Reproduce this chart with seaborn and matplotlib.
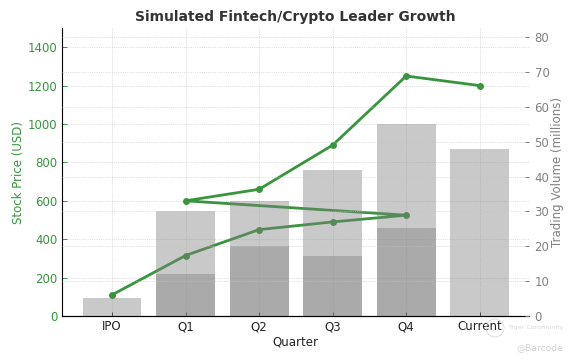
import matplotlib
matplotlib.use("Agg")
from matplotlib import pyplot as plt
from matplotlib.patches import Ellipse
import seaborn as sns

categories = ['IPO', 'Q1', 'Q2', 'Q3', 'Q4', 'Current']

# line goes back to Q1 after the first Q4, same as the picture
line_quarters = ['IPO', 'Q1', 'Q2', 'Q3', 'Q4', 'Q1', 'Q2', 'Q3', 'Q4', 'Current']
price = [110, 315, 450, 490, 525, 600, 660, 890, 1250, 1200]

# two overlapping rounds of volume bars
bar_quarters_1 = ['IPO', 'Q1', 'Q2', 'Q3', 'Q4']
volume_1 = [5.2, 12, 20, 17.2, 25.2]
bar_quarters_2 = ['Q1', 'Q2', 'Q3', 'Q4', 'Current']
volume_2 = [30, 33, 42, 55, 48]

GREEN = '#38943d'
GRAY = '#808080'

sns.set_style('white')
plt.rcParams['font.family'] = ['DejaVu Sans']

fig, ax1 = plt.subplots(figsize=(5.76, 3.6), dpi=100)
ax2 = ax1.twinx()

sns.lineplot(x=line_quarters, y=price, sort=False, estimator=None, marker='o',
             color=GREEN, linewidth=2, markersize=5, markeredgewidth=0, ax=ax1)
ax1.set_ylim(0, 1500)
ax1.set_yticks(range(0, 1401, 200))
ax1.set_ylabel('Stock Price (USD)', color=GREEN, fontsize=8.5, labelpad=2)
ax1.set_xlabel('Quarter', fontsize=8.5, labelpad=2, color='#222222')
ax1.tick_params(axis='y', colors=GREEN, labelsize=8.5, length=3.5, left=True,
                direction='in', pad=3.5, width=0.7)
ax1.tick_params(axis='x', colors='#222222', labelsize=8.5, length=3, bottom=True,
                direction='in', pad=3, width=0.7)

sns.barplot(x=bar_quarters_1, y=volume_1, order=categories, color=GRAY, alpha=0.42,
            saturation=1, width=0.8, linewidth=0, ax=ax2)
sns.barplot(x=bar_quarters_2, y=volume_2, order=categories, color=GRAY, alpha=0.42,
            saturation=1, width=0.8, linewidth=0, ax=ax2)
ax2.set_ylim(0, 82.6)
ax2.set_yticks(range(0, 81, 10))
ax2.set_ylabel('Trading Volume (millions)', color=GRAY, fontsize=8.5, labelpad=1)
ax2.tick_params(axis='y', colors=GRAY, labelsize=8.5, length=3, right=True,
                direction='in', pad=4, width=0.7)

ax1.set_xlim(-0.68, 5.67)
ax2.set_xlim(-0.68, 5.67)

ax1.grid(True, axis='both', linestyle=':', linewidth=0.5, color='#c4c4c4')
ax2.grid(True, axis='y', linestyle=':', linewidth=0.5, color='#c4c4c4')
ax2.set_axisbelow(False)

for ax in (ax1, ax2):
    ax.spines['top'].set_visible(False)
    ax.spines['right'].set_visible(False)
    ax.spines['left'].set_color('black')
    ax.spines['bottom'].set_color('black')
ax2.spines['left'].set_visible(False)

ax1.set_title('Simulated Fintech/Crypto Leader Growth', fontsize=10, fontweight='bold',
              color='#333333', pad=5)

# faint watermarks
fig.text(0.882, 0.087, 'Tiger Community', fontsize=4.6, color='#d8d8d8')
fig.text(0.897, 0.028, '@Barcode', fontsize=6.6, color='#d4d4d4')
fig.add_artist(Ellipse((495/576, 1-328/360), 18/576, 18/360, fill=False,
                       edgecolor='#d8d8d8', linewidth=0.6, transform=fig.transFigure))

fig.subplots_adjust(left=62/576, right=529/576, top=1-28/360, bottom=1-316/360)
fig.savefig('out.png', dpi=100)
